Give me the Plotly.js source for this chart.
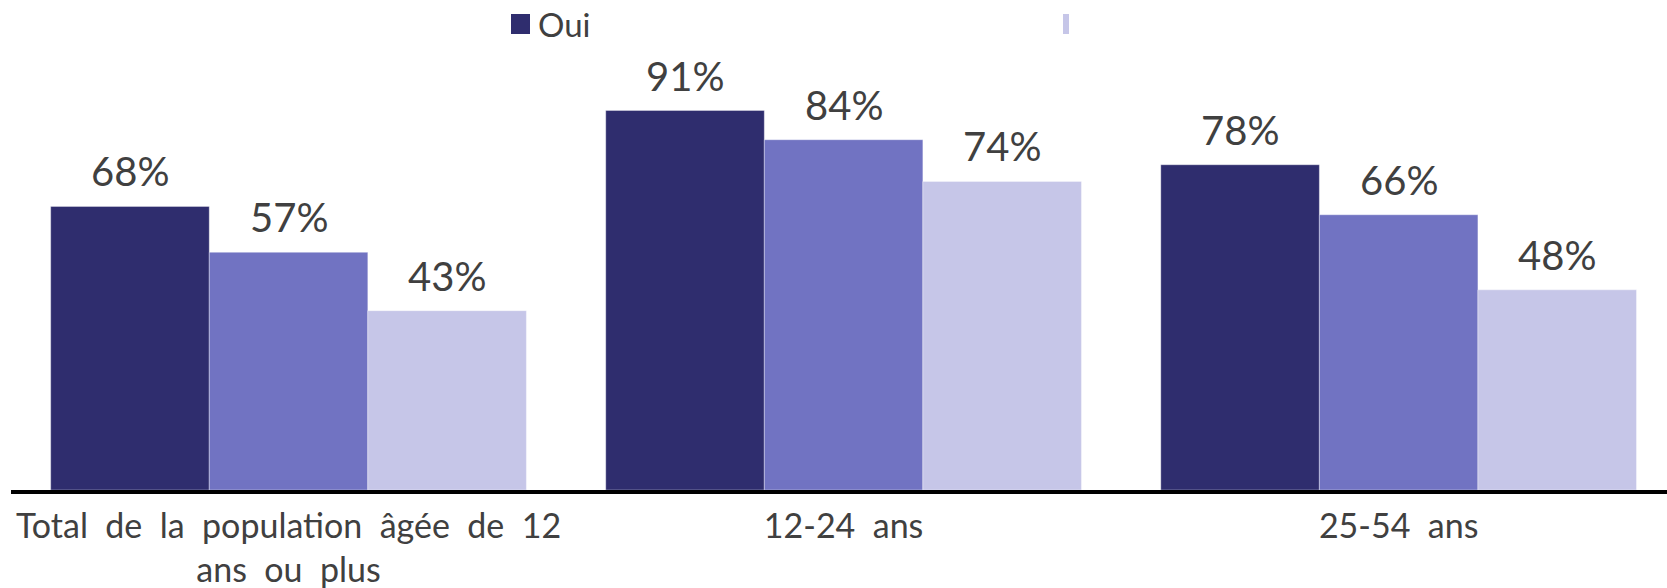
<!DOCTYPE html>
<html>
<head>
<meta charset="utf-8">
<script src="https://cdn.plot.ly/plotly-3.0.1.min.js"></script>
<style>
  html, body { margin: 0; padding: 0; background: #fff; }
  #chart { width: 1667px; height: 588px; }
</style>
</head>
<body>
<div id="chart"></div>
<script>
var categories = ['Total de la population âgée de 12<br>ans ou plus', '12-24 ans', '25-54 ans'];
var seriesNames = ['Oui', ' ', ' '];
var seriesColors = ['#2f2d6e', '#7173c2', '#c6c6e8'];
var valuesA = [0.68, 0.91, 0.78];
var valuesB = [0.57, 0.84, 0.66];
var valuesC = [0.43, 0.74, 0.48];
var allValues = [valuesA, valuesB, valuesC];

var W = 1667, H = 588;
var M = {l: 11, r: 0, t: 73, b: 98};
var bargap = 0.143;
var textColor = '#404040';
var fontFamily = 'Lato, "Open Sans", sans-serif';

// the source font has wide word gaps: widen the spaces a little
var shownCategories = categories.map(function (c) { return c.replace(/ /g, '\u00a0 '); });

// pixel -> paper helpers for the hand-drawn legend
function px(x) { return (x - M.l) / (W - M.l - M.r); }
function py(y) { return (H - M.b - y) / (H - M.t - M.b); }

var data = allValues.map(function (vals, j) {
    return {
        x: shownCategories,
        y: vals,
        name: seriesNames[j],
        type: 'bar',
        showlegend: false,
        marker: {
            color: seriesColors[j],
            line: {color: 'rgba(255,255,255,0.35)', width: 1},
        },
        hovertemplate: '%{y:.0%}<extra></extra>',
    };
});

// value labels above each bar
var barW = (1 - bargap) / allValues.length;
var annotations = [];
allValues.forEach(function (vals, j) {
    vals.forEach(function (v, i) {
        annotations.push({
            x: i + (j - (allValues.length - 1) / 2) * barW,
            y: v,
            xref: 'x',
            yref: 'y',
            text: Math.round(v * 100) + '%',
            showarrow: false,
            yanchor: 'bottom',
            yshift: 9,
            font: {family: fontFamily, size: 40, color: textColor},
        });
    });
});

// legend (as in the source: "Oui" then a cut-off light swatch)
annotations.push({
    x: px(536), y: py(24), xref: 'paper', yref: 'paper',
    xanchor: 'left', yanchor: 'middle', showarrow: false,
    text: seriesNames[0],
    font: {family: fontFamily, size: 33, color: textColor},
});
var shapes = [
    {type: 'rect', xref: 'paper', yref: 'paper', x0: px(511), x1: px(530), y0: py(34), y1: py(14),
     fillcolor: seriesColors[0], line: {width: 0}},
    {type: 'rect', xref: 'paper', yref: 'paper', x0: px(1063), x1: px(1069), y0: py(34), y1: py(14),
     fillcolor: seriesColors[2], line: {width: 0}},
];

var layout = {
    width: W,
    height: H,
    margin: M,
    paper_bgcolor: '#fff',
    plot_bgcolor: '#fff',
    barmode: 'group',
    bargap: bargap,
    bargroupgap: 0,
    showlegend: false,
    font: {family: fontFamily, color: textColor},
    xaxis: {
        type: 'category',
        range: [-0.5, 2.4835],
        showline: true,
        linecolor: '#000',
        linewidth: 4,
        ticks: '',
        showgrid: false,
        ticklabelstandoff: 3,
        tickfont: {family: fontFamily, size: 34, color: textColor},
    },
    yaxis: {
        range: [0, 1],
        visible: false,
        showgrid: false,
        zeroline: false,
    },
    annotations: annotations,
    shapes: shapes,
};

Plotly.newPlot('chart', data, layout, {displayModeBar: false, staticPlot: true});
</script>
</body>
</html>
